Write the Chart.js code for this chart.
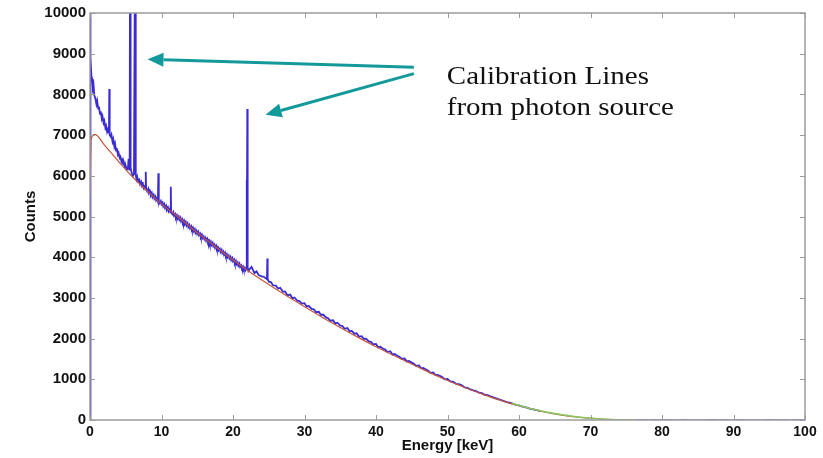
<!DOCTYPE html>
<html>
<head>
<meta charset="utf-8">
<script src="https://cdn.jsdelivr.net/npm/chart.js@4.4.1/dist/chart.umd.min.js"></script>
<style>
  html, body { margin: 0; padding: 0; background: #fff; }
  #spectrum { display: block; }
</style>
</head>
<body>
<canvas id="spectrum" width="823" height="458"></canvas>
<script>
'use strict';

// measured spectrum, 0 - 63 keV (blue)
var blueKeV = [
  0, 0.03, 0.1, 0.2, 0.3, 0.4, 0.5, 0.6, 0.75, 0.9, 1.0, 1.15, 1.25, 1.4, 1.5, 1.65, 1.75, 1.9, 2.0, 2.15,
  2.25, 2.4, 2.55, 2.65, 2.7, 2.75, 2.9, 3.0, 3.15, 3.25, 3.4, 3.5, 3.65, 3.75, 3.9, 4.0, 4.15, 4.25, 4.4, 4.5,
  4.65, 4.75, 4.9, 5.0, 5.15, 5.3, 5.4, 5.5, 5.55, 5.6, 5.68, 5.85, 6.0, 6.15, 6.3, 6.4, 6.5, 6.6, 6.75, 6.9,
  7.0, 7.15, 7.25, 7.4, 7.5, 7.65, 7.75, 7.8, 7.85, 8.0, 8.15, 8.25, 8.4, 8.5, 8.65, 8.75, 8.9, 9.0, 9.15, 9.25,
  9.4, 9.5, 9.56, 9.62, 9.75, 9.9, 10.0, 10.15, 10.25, 10.4, 10.5, 10.65, 10.75, 10.9, 11.0, 11.15, 11.25, 11.3, 11.35, 11.5,
  11.65, 11.75, 11.9, 12.0, 12.15, 12.25, 12.4, 12.5, 12.65, 12.75, 12.9, 13.0, 13.15, 13.25, 13.4, 13.5, 13.65, 13.75, 13.9, 14.0,
  14.15, 14.25, 14.4, 14.5, 14.65, 14.75, 14.9, 15.0, 15.15, 15.25, 15.4, 15.5, 15.65, 15.75, 15.9, 16.0, 16.15, 16.25, 16.4, 16.5,
  16.65, 16.75, 16.9, 17.0, 17.15, 17.25, 17.4, 17.5, 17.65, 17.75, 17.9, 18.0, 18.15, 18.25, 18.4, 18.5, 18.65, 18.75, 18.9, 19.0,
  19.15, 19.25, 19.4, 19.5, 19.65, 19.75, 19.9, 20.0, 20.15, 20.25, 20.4, 20.5, 20.65, 20.75, 20.9, 21.0, 21.15, 21.25, 21.4, 21.5,
  21.65, 21.75, 21.85, 21.9, 21.95, 22.0, 22.05, 22.15, 22.3, 22.6, 23.0, 23.3, 23.6, 24.0, 24.3, 24.6, 24.75, 24.8, 24.85, 25.0,
  25.3, 25.6, 26.0, 26.3, 26.6, 27.0, 27.3, 27.6, 28.0, 28.3, 28.6, 29.0, 29.3, 29.6, 30.0, 30.3, 30.6, 31.0, 31.3, 31.6,
  32.0, 32.3, 32.6, 33.0, 33.3, 33.6, 34.0, 34.3, 34.6, 35.0, 35.3, 35.6, 36.0, 36.3, 36.6, 37.0, 37.3, 37.6, 38.0, 38.3,
  38.6, 39.0, 39.3, 39.6, 40.0, 40.3, 40.6, 41.0, 41.3, 41.6, 42.0, 42.3, 42.6, 43.0, 43.3, 43.6, 44.0, 44.3, 44.6, 45.0,
  45.3, 45.6, 46.0, 46.3, 46.6, 47.0, 47.3, 47.6, 48.0, 48.3, 48.6, 49.0, 49.3, 49.6, 50.0, 50.4, 50.8, 51.2, 51.6, 52.0,
  52.4, 52.8, 53.2, 53.6, 54.0, 54.4, 54.8, 55.2, 55.6, 56.0, 56.5, 57.0, 57.5, 58.0, 58.5, 59.0, 59.5, 60.0, 60.5, 61.0,
  61.5, 62.0, 62.5, 63.0
];
var blueCounts = [
  0, 11000, 8900, 8450, 8380, 8150, 8220, 7980, 7900, 7760, 7840, 7650, 7700, 7520, 7580, 7400, 7460, 7300, 7350, 7180,
  7230, 7080, 7160, 7050, 8130, 7000, 6960, 7010, 6840, 6900, 6720, 6790, 6620, 6680, 6520, 6560, 6440, 6470, 6350, 6390,
  6280, 6310, 6210, 6240, 6150, 6180, 6420, 6150, 6300, 12000, 6200, 6050, 6000, 6050, 12000, 6020, 5920, 5980, 5860, 5900,
  5800, 5850, 5760, 5800, 5700, 5740, 5660, 6100, 5690, 5620, 5680, 5580, 5620, 5520, 5570, 5480, 5530, 5440, 5490, 5400,
  5450, 5380, 6060, 5390, 5330, 5380, 5300, 5340, 5250, 5300, 5210, 5260, 5170, 5220, 5130, 5180, 5100, 5730, 5110, 5060,
  5110, 5020, 5060, 4980, 5030, 4950, 5000, 4920, 4970, 4880, 4930, 4850, 4900, 4810, 4860, 4780, 4830, 4740, 4790, 4710,
  4760, 4680, 4720, 4640, 4690, 4600, 4650, 4570, 4620, 4540, 4580, 4500, 4550, 4470, 4510, 4440, 4480, 4400, 4450, 4370,
  4410, 4330, 4380, 4300, 4350, 4270, 4310, 4230, 4280, 4200, 4240, 4170, 4210, 4130, 4180, 4100, 4140, 4060, 4110, 4030,
  4070, 4000, 4040, 3970, 4010, 3930, 3980, 3900, 3940, 3860, 3910, 3830, 3870, 3790, 3840, 3760, 3800, 3730, 3770, 3700,
  3740, 3680, 3720, 5900, 4200, 7640, 3750, 3660, 3700, 3760, 3610, 3650, 3560, 3530, 3520, 3480, 3460, 3970, 3470, 3400,
  3390, 3310, 3300, 3230, 3250, 3150, 3160, 3060, 3080, 2990, 3010, 2930, 2920, 2860, 2870, 2790, 2800, 2730, 2720, 2650,
  2660, 2580, 2590, 2520, 2500, 2440, 2450, 2370, 2390, 2320, 2310, 2240, 2260, 2180, 2190, 2120, 2130, 2050, 2060, 1990,
  2000, 1930, 1920, 1860, 1870, 1790, 1800, 1750, 1730, 1670, 1690, 1610, 1620, 1580, 1550, 1500, 1510, 1440, 1450, 1410,
  1380, 1330, 1340, 1270, 1280, 1240, 1210, 1160, 1170, 1110, 1110, 1080, 1050, 1000, 1010, 950, 940, 890, 880, 850,
  800, 790, 750, 730, 710, 670, 660, 620, 610, 580, 550, 520, 490, 460, 430, 410, 380, 360, 330, 310,
  280, 260, 240, 220
];

// measured spectrum above the cut-off (blue, near zero)
var tailKeV = [76, 77, 78, 79, 80, 81, 82, 83, 84, 85, 86, 87, 88, 89, 90, 91, 92, 93, 94, 95, 96, 97, 98, 99, 100];
var tailCounts = [6, 12, 4, 14, 6, 10, 3, 15, 5, 8, 3, 13, 6, 10, 3, 12, 5, 8, 3, 14, 6, 10, 3, 12, 5];

// fitted continuum (red)
var fitKeV = [0, 0.15, 0.7, 2, 4, 5.8, 8, 10, 12.6, 15, 17, 19.5, 22, 25, 28, 31, 34, 37.5, 40, 43, 46, 49.6, 52, 55, 58, 60, 63, 66, 70, 73, 76];
var fitCounts = [5500, 6900, 7020, 6760, 6350, 6000, 5630, 5310, 4950, 4600, 4330, 4000, 3680, 3330, 3000, 2680, 2370, 2030, 1800, 1540, 1290, 1000, 830, 630, 450, 350, 220, 120, 40, 10, 0];

// end-point section (green)
var endKeV = [59, 60, 61, 62, 63, 64, 65, 66, 67, 68, 69, 70, 71, 72, 73, 74, 75, 76.5];
var endCounts = [410, 360, 305, 265, 225, 190, 160, 130, 105, 80, 60, 45, 30, 20, 12, 6, 3, 0];

// axis ticks
var xTicks = [0, 10, 20, 30, 40, 50, 60, 70, 80, 90, 100];
var yTicks = [0, 1000, 2000, 3000, 4000, 5000, 6000, 7000, 8000, 9000, 10000];

// annotation: text anchor, arrow start and arrow tips (keV, counts)
var noteLines = ['Calibration Lines', 'from photon source'];
var noteAnchor = [49.9, 8250, 7500];
var arrowFrom = [[45.3, 8670], [45.3, 8510]];
var arrowTo = [[8.04, 8866], [24.55, 7500]];

function toPoints(xs, ys) {
  return xs.map(function(x, i) { return { x: x, y: ys[i] }; });
}

var frameColor = '#9c9c9c';
var teal = '#14999b';

// box around the plot with inward ticks on all four sides
var framePlugin = {
  id: 'frame',
  afterDatasetsDraw: function(chart) {
    var ctx = chart.ctx;
    var a = chart.chartArea;
    var xs = chart.scales.x, ys = chart.scales.y;
    var len = 5;
    ctx.save();
    ctx.strokeStyle = frameColor;
    ctx.lineWidth = 1.5;
    ctx.strokeRect(a.left, a.top, a.right - a.left, a.bottom - a.top);
    ctx.lineWidth = 1;
    ctx.beginPath();
    xTicks.forEach(function(v) {
      var px = Math.round(xs.getPixelForValue(v)) + 0.5;
      ctx.moveTo(px, a.bottom); ctx.lineTo(px, a.bottom - len);
      ctx.moveTo(px, a.top); ctx.lineTo(px, a.top + len);
    });
    yTicks.forEach(function(v) {
      var py = Math.round(ys.getPixelForValue(v)) + 0.5;
      ctx.moveTo(a.left, py); ctx.lineTo(a.left + len, py);
      ctx.moveTo(a.right, py); ctx.lineTo(a.right - len, py);
    });
    ctx.stroke();
    ctx.restore();
  }
};

// the "Calibration Lines" note with its two arrows
var notePlugin = {
  id: 'note',
  afterDraw: function(chart) {
    var ctx = chart.ctx;
    var xs = chart.scales.x, ys = chart.scales.y;
    ctx.save();

    arrowFrom.forEach(function(from, i) {
      var x0 = xs.getPixelForValue(from[0]), y0 = ys.getPixelForValue(from[1]);
      var x1 = xs.getPixelForValue(arrowTo[i][0]), y1 = ys.getPixelForValue(arrowTo[i][1]);
      var ang = Math.atan2(y1 - y0, x1 - x0);
      var head = 16, half = 7;
      var bx = x1 - head * Math.cos(ang), by = y1 - head * Math.sin(ang);
      ctx.strokeStyle = teal;
      ctx.lineWidth = 3;
      ctx.beginPath();
      ctx.moveTo(x0, y0);
      ctx.lineTo(bx, by);
      ctx.stroke();
      ctx.fillStyle = teal;
      ctx.beginPath();
      ctx.moveTo(x1, y1);
      ctx.lineTo(bx + half * Math.sin(ang), by - half * Math.cos(ang));
      ctx.lineTo(bx - half * Math.sin(ang), by + half * Math.cos(ang));
      ctx.closePath();
      ctx.fill();
    });

    ctx.fillStyle = '#111';
    ctx.font = '25px "Liberation Serif", "Times New Roman", serif';
    ctx.textAlign = 'left';
    ctx.textBaseline = 'alphabetic';
    var tx = xs.getPixelForValue(noteAnchor[0]);
    noteLines.forEach(function(line, i) {
      var ty = ys.getPixelForValue(noteAnchor[i + 1]);
      ctx.save();
      ctx.translate(tx, ty);
      ctx.scale(1.16, 1);
      ctx.fillText(line, 0, 0);
      ctx.restore();
    });
    ctx.restore();
  }
};

Chart.defaults.font.family = '"Liberation Sans", Arial, sans-serif';
Chart.defaults.color = '#111';

new Chart(document.getElementById('spectrum'), {
  type: 'scatter',
  data: {
    datasets: [{
      label: 'End point',
      data: toPoints(endKeV, endCounts),
      showLine: true,
      borderColor: '#8cc860',
      borderWidth: 1.6,
      pointRadius: 0,
      cubicInterpolationMode: 'monotone'
    }, {
      label: 'Fit',
      data: toPoints(fitKeV, fitCounts),
      showLine: true,
      borderColor: '#c4553c',
      borderWidth: 1.2,
      pointRadius: 0,
      cubicInterpolationMode: 'monotone'
    }, {
      label: 'Spectrum',
      data: toPoints(blueKeV, blueCounts),
      showLine: true,
      borderColor: '#3a2bd2',
      borderWidth: 1.8,
      pointRadius: 0
    }, {
      label: 'Spectrum tail',
      data: toPoints(tailKeV, tailCounts),
      showLine: true,
      borderColor: '#7a70e4',
      borderWidth: 1,
      pointRadius: 0
    }]
  },
  options: {
    responsive: false,
    animation: false,
    layout: { padding: { left: 0, right: 18, top: 11, bottom: 0 } },
    plugins: {
      legend: { display: false },
      tooltip: { enabled: false }
    },
    scales: {
      x: {
        type: 'linear',
        min: 0,
        max: 100,
        afterFit: function(scale) { scale.height = 38; },
        afterBuildTicks: function(scale) {
          scale.ticks = xTicks.map(function(v) { return { value: v }; });
        },
        grid: { display: false, drawTicks: false },
        border: { display: false },
        ticks: {
          autoSkip: false,
          maxRotation: 0,
          padding: 4,
          font: { size: 14, weight: 'bold' },
          callback: function(v) { return String(v); }
        },
        title: {
          display: true,
          text: 'Energy [keV]',
          font: { size: 15, weight: 'bold' },
          padding: { top: 0, bottom: 3 }
        }
      },
      y: {
        min: 0,
        max: 10000,
        afterFit: function(scale) { scale.width = 90; },
        afterBuildTicks: function(scale) {
          scale.ticks = yTicks.map(function(v) { return { value: v }; });
        },
        grid: { display: false, drawTicks: false },
        border: { display: false },
        ticks: {
          autoSkip: false,
          padding: 4,
          font: { size: 15, weight: 'bold' },
          callback: function(v) { return String(v); }
        },
        title: {
          display: true,
          text: 'Counts',
          font: { size: 15, weight: 'bold' },
          padding: { top: 22, bottom: 0 }
        }
      }
    }
  },
  plugins: [framePlugin, notePlugin]
});
</script>
</body>
</html>
